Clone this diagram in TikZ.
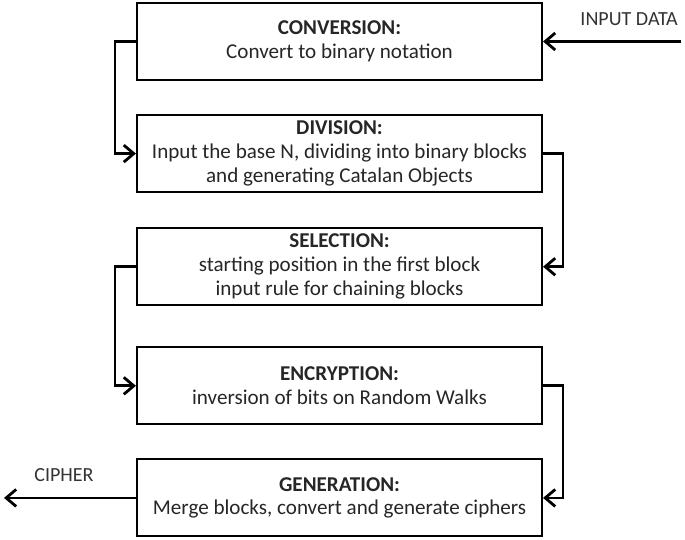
\documentclass[tikz,border=0pt]{standalone}
\usepackage{fontspec}
\setmainfont{Carlito}
\usetikzlibrary{arrows.meta,positioning}

\begin{document}
\begin{tikzpicture}[>={Straight Barb[length=2mm,width=3.4mm]},
                    flow/.style={->,line width=1.6pt},
                    block/.style={draw,line width=1.2pt,minimum width=8.1cm,
                      minimum height=1.54cm,align=center,text=black!85,
                      font=\fontsize{12}{13.6}\selectfont},
                    lbl/.style={text=black!80,font=\fontsize{11.4}{13.4}\selectfont},
                    node distance=0.66cm]
  \useasboundingbox (0,0) rectangle (13.7,-10.8);

  \node[block] (conv) at (6.79,-0.83)
    {\textbf{CONVERSION:}\\Convert to binary notation};
  \node[block] (div)  [below=of conv]
    {\textbf{DIVISION:}\\Input the base N, dividing into binary blocks\\and generating Catalan Objects};
  \node[block] (sel)  [below=0.68cm of div]
    {\textbf{SELECTION:}\\starting position in the first block\\input rule for chaining blocks};
  \node[block] (enc)  [below=0.8cm of sel]
    {\textbf{ENCRYPTION:}\\inversion of bits on Random Walks};
  \node[block] (gen)  [below=0.66cm of enc]
    {\textbf{GENERATION:}\\Merge blocks, convert and generate ciphers};

  \coordinate (in)  at (13.62,0);
  \coordinate (out) at (0.08,0);
  \node[lbl,anchor=east] (input)  at (13.68,-0.38) {INPUT DATA};
  \node[lbl] (cipher) at (1.28,-9.5) {CIPHER};

  \draw[flow] (conv.east -| in) -- (conv.east);
  \draw[flow] (conv.west) -- ++(-0.42,0) |- (div.west);
  \draw[flow] (div.east)  -- ++(0.4,0)   |- (sel.east);
  \draw[flow] (sel.west)  -- ++(-0.42,0) |- (enc.west);
  \draw[flow] (enc.east)  -- ++(0.4,0)   |- (gen.east);
  \draw[flow] (gen.west) -- (gen.west -| out);
\end{tikzpicture}
\end{document}
